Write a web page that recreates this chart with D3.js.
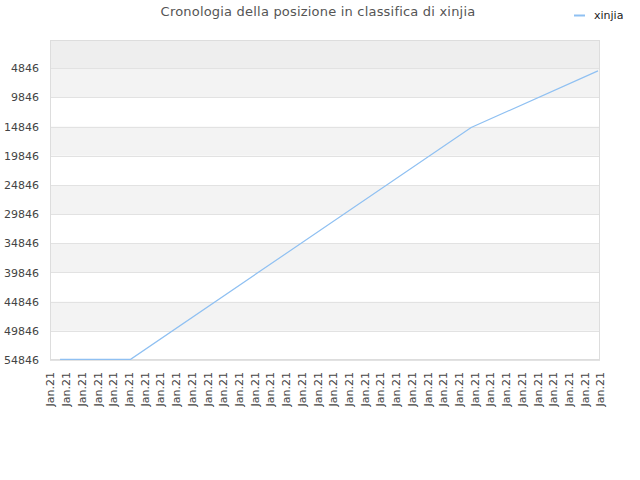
<!DOCTYPE html>
<html>
<head>
<meta charset="utf-8">
<script src="https://cdn.jsdelivr.net/npm/d3@7"></script>
<style>
  body { margin: 0; background: #fff; }
  svg { display: block; font-family: "DejaVu Sans", sans-serif; }
</style>
</head>
<body>
<svg id="chart" width="640" height="480"></svg>
<script>
// ---- data ----
const title = "Cronologia della posizione in classifica di xinjia";
const seriesName = "xinjia";
const xLabels = Array(36).fill("Jan.21");
const yTicks = [4846, 9846, 14846, 19846, 24846, 29846, 34846, 39846, 44846, 49846, 54846];
const rankMin = 1, rankMax = 54846;
// line points: position along the label axis (label index units) and rank
const pointPos = [0.64, 5.13, 26.8, 34.87];
const pointRank = [54730, 54730, 15000, 5300];

// ---- layout ----
const svg = d3.select("#chart");
const L = 50, R = 600, T = 40, B = 360;

const x = d3.scaleLinear().domain([0, xLabels.length - 1]).range([L, R]);
const y = d3.scaleLinear().domain([rankMin, rankMax]).range([T, B]);

// bands
const bandEdges = [rankMin].concat(yTicks);
for (let i = 0; i < bandEdges.length - 1; i++) {
  let fill = i === 0 ? "#eeeeee" : (i % 2 === 1 ? "#f3f3f3" : "#ffffff");
  svg.append("rect")
    .attr("x", L).attr("width", R - L)
    .attr("y", y(bandEdges[i])).attr("height", y(bandEdges[i + 1]) - y(bandEdges[i]))
    .attr("fill", fill);
}

// grid lines
svg.append("g").selectAll("line").data(yTicks).join("line")
  .attr("x1", L).attr("x2", R)
  .attr("y1", d => Math.round(y(d)) + 0.5).attr("y2", d => Math.round(y(d)) + 0.5)
  .attr("stroke", "#e2e2e2").attr("stroke-width", 1);

// border
svg.append("rect")
  .attr("x", L + 0.5).attr("y", T + 0.5)
  .attr("width", R - L - 1).attr("height", B - T - 1)
  .attr("fill", "none").attr("stroke", "#dddddd");

// y axis labels
const yAxis = d3.axisLeft(y).tickValues(yTicks).tickSize(0).tickPadding(0)
  .tickFormat(d => String(d));
const gy = svg.append("g").attr("transform", `translate(${L - 11},0)`).call(yAxis);
gy.select(".domain").remove();
gy.selectAll("text").attr("font-size", 11).attr("fill", "#444")
  .attr("font-family", "DejaVu Sans, sans-serif");

// x axis labels
const xAxis = d3.axisBottom(x).tickValues(d3.range(xLabels.length)).tickSize(0).tickPadding(0)
  .tickFormat(i => xLabels[i]);
const gx = svg.append("g").attr("transform", `translate(0,${B + 12})`).call(xAxis);
gx.select(".domain").remove();
gx.selectAll("text")
  .attr("font-size", 11).attr("fill", "#444")
  .attr("font-family", "DejaVu Sans, sans-serif")
  .attr("text-anchor", "end")
  .attr("transform", "rotate(-90)")
  .attr("x", 0).attr("y", 0).attr("dy", "0.35em");

// line
const pts = pointPos.map((p, i) => [p, pointRank[i]]);
svg.append("path")
  .datum(pts)
  .attr("fill", "none")
  .attr("stroke", "#8fc0f2")
  .attr("stroke-width", 1.2)
  .attr("d", d3.line().x(d => x(d[0])).y(d => y(d[1])));

// title
svg.append("text")
  .attr("x", 318).attr("y", 16)
  .attr("text-anchor", "middle")
  .attr("font-size", 13).attr("fill", "#555")
  .attr("letter-spacing", 0.2)
  .text(title);

// legend
svg.append("line")
  .attr("x1", 574).attr("x2", 585).attr("y1", 15.5).attr("y2", 15.5)
  .attr("stroke", "#8fc0f2").attr("stroke-width", 2);
svg.append("text")
  .attr("x", 594).attr("y", 19)
  .attr("font-size", 11).attr("fill", "#222")
  .text(seriesName);
</script>
</body>
</html>
